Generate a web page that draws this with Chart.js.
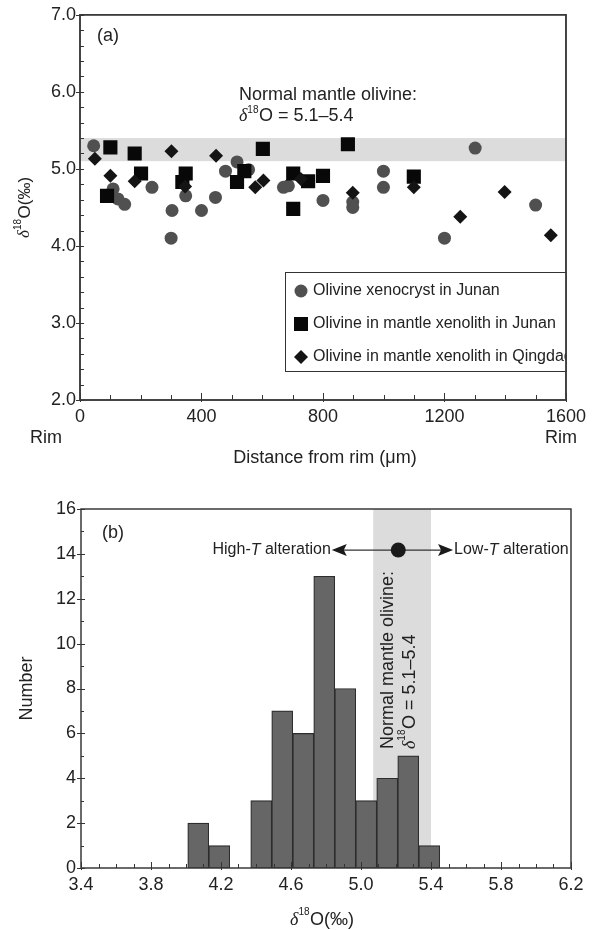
<!DOCTYPE html>
<html><head><meta charset="utf-8">
<script src="https://cdn.jsdelivr.net/npm/chart.js@4.4.1/dist/chart.umd.min.js"></script>
<style>
html,body{margin:0;padding:0;background:#fff;width:592px;height:930px;overflow:hidden}
#wa{position:absolute;left:0;top:0;width:592px;height:475px}
#wb{position:absolute;left:0;top:478px;width:592px;height:452px}
</style></head><body>
<div id="wa"><canvas id="ca"></canvas></div>
<div id="wb"><canvas id="cb"></canvas></div>
<script>
// ---------- Panel (a) data: distance from rim (um) vs d18O ----------
const xenocrystJunanX = [45,109,125,147,237,300,303,348,400,446,479,517,555,670,686,800,898,898,999,999,1200,1301,1500];
const xenocrystJunanY = [5.30,4.74,4.61,4.54,4.76,4.10,4.46,4.65,4.46,4.63,4.97,5.09,4.99,4.76,4.78,4.59,4.57,4.50,4.97,4.76,4.10,5.27,4.53];
const xenolithJunanX = [100,89,180,201,348,337,541,517,602,702,751,702,800,882,1099];
const xenolithJunanY = [5.28,4.65,5.20,4.94,4.94,4.83,4.97,4.83,5.26,4.94,4.84,4.48,4.91,5.32,4.90];
const xenolithQingdaoX = [49,100,180,301,346,448,577,604,727,898,1099,1252,1398,1550];
const xenolithQingdaoY = [5.13,4.91,4.84,5.23,4.77,5.17,4.76,4.85,4.87,4.69,4.76,4.38,4.70,4.14];
const seriesLabels = ['Olivine xenocryst in Junan','Olivine in mantle xenolith in Junan','Olivine in mantle xenolith in Qingdao'];
const normalBand = [5.1, 5.4];
// ---------- Panel (b) data: histogram ----------
const binCenters = [4.07,4.19,4.31,4.43,4.55,4.67,4.79,4.91,5.03,5.15,5.27,5.39];
const binCounts  = [2,1,0,3,7,6,13,8,3,4,5,1];
const bandB = [5.07, 5.40];
const arrowB = {y: 14.17, left: 4.833, right: 5.526, dot: 5.213};

const FONT = '"Liberation Sans", Arial, Helvetica, sans-serif';
const SERIF = '"Liberation Serif", "Times New Roman", serif';
const TXT = '#222';

function d18Segs(fs, rest){
  return [
    {t:'\u03B4', f:'italic '+fs+'px '+SERIF, dy:0},
    {t:'18', f:Math.round(fs*0.58)+'px '+FONT, dy:-fs*0.42},
    {t:'O'+rest, f:fs+'px '+FONT, dy:0}
  ];
}
function segsWidth(ctx, segs){
  let w=0; for(const s of segs){ctx.font=s.f; w+=ctx.measureText(s.t).width+(s.t==='18'?0.5:0);} return w;
}
function drawSegs(ctx, segs, x, y){
  let cx=x;
  for(const s of segs){ctx.font=s.f; ctx.fillText(s.t, cx, y+s.dy); cx+=ctx.measureText(s.t).width+(s.t==='18'?0.5:0);}
  return cx-x;
}

function drawFrame(ctx, a){
  ctx.save();
  ctx.strokeStyle='#3a3a3a'; ctx.lineWidth=1.5;
  ctx.strokeRect(a.left, a.top, a.right-a.left, a.bottom-a.top);
  ctx.restore();
}

function tickMarks(ctx, chart, axis, from, to, step, majorEvery, majLen, minLen){
  const s = chart.scales[axis]; const a = chart.chartArea;
  ctx.save(); ctx.strokeStyle='#333'; ctx.lineWidth=1;
  const n = Math.round((to-from)/step);
  for(let i=0;i<=n;i++){
    const v = from + i*step;
    const major = (i % majorEvery)===0;
    ctx.beginPath();
    if(axis==='y'){
      const p = Math.round(s.getPixelForValue(v))+0.5;
      if(major){ctx.moveTo(a.left-4,p); ctx.lineTo(a.left+majLen,p);} else {ctx.moveTo(a.left,p); ctx.lineTo(a.left+minLen,p);}
    } else {
      const p = Math.round(s.getPixelForValue(v))+0.5;
      if(major){ctx.moveTo(p,a.bottom+2); ctx.lineTo(p,a.bottom-majLen);} else {ctx.moveTo(p,a.bottom); ctx.lineTo(p,a.bottom-minLen);}
    }
    ctx.stroke();
  }
  ctx.restore();
}

// ---------- Chart (a) ----------
const pluginA = {
  id:'panelA',
  beforeDatasetsDraw(chart){
    const {ctx, chartArea:a, scales:{y}} = chart;
    ctx.save(); ctx.fillStyle='#dcdcdc';
    const t=y.getPixelForValue(normalBand[1]), b=y.getPixelForValue(normalBand[0]);
    ctx.fillRect(a.left, t, a.right-a.left, b-t); ctx.restore();
  },
  afterDraw(chart){
    const {ctx, chartArea:a} = chart;
    tickMarks(ctx, chart, 'y', 2, 7, 0.2, 5, 4, 4);
    tickMarks(ctx, chart, 'x', 0, 1600, 100, 4, 7, 5);
    drawFrame(ctx, a);
    ctx.save();
    ctx.fillStyle=TXT; ctx.textBaseline='alphabetic'; ctx.textAlign='left';
    // panel label
    ctx.font='18px '+FONT; ctx.textBaseline='middle'; ctx.fillText('(a)', 97, 36);
    // annotation
    ctx.textBaseline='alphabetic';
    ctx.font='18px '+FONT; ctx.fillText('Normal mantle olivine:', 239, 100);
    drawSegs(ctx, d18Segs(18,' = 5.1\u20135.4'), 239, 121);
    // legend box
    const lx=285, ly=272, lb=371;
    ctx.fillStyle='#fff'; ctx.fillRect(lx, ly, a.right-lx, lb-ly);
    ctx.save(); ctx.beginPath(); ctx.rect(lx, ly, a.right-lx, lb-ly); ctx.clip();
    const rows=[291,324,357];
    const ds = chart.data.datasets;
    for(let i=0;i<3;i++){
      const cy=rows[i], cx=301;
      ctx.fillStyle=ds[i].backgroundColor;
      ctx.beginPath();
      if(i===0){ctx.arc(cx,cy,6.5,0,Math.PI*2);}
      else if(i===1){ctx.rect(cx-7,cy-7,14,14);}
      else {ctx.moveTo(cx-7,cy);ctx.lineTo(cx,cy-7);ctx.lineTo(cx+7,cy);ctx.lineTo(cx,cy+7);ctx.closePath();}
      ctx.fill();
      ctx.fillStyle=TXT; ctx.font='16px '+FONT; ctx.textBaseline='middle';
      ctx.fillText(seriesLabels[i], 313, cy);
    }
    ctx.restore();
    ctx.strokeStyle='#333'; ctx.lineWidth=1;
    ctx.strokeRect(lx+0.5, ly+0.5, a.right-lx-0.5, lb-ly);
    drawFrame(ctx, a);
    // axis titles
    ctx.fillStyle=TXT; ctx.textBaseline='middle';
    ctx.font='18px '+FONT; ctx.textAlign='center';
    ctx.fillText('Rim', 46, 438);
    ctx.fillText('Rim', 561, 438);
    ctx.fillText('Distance from rim (\u03BCm)', 325, 458);
    // y title rotated
    ctx.save();
    ctx.translate(19, (a.top+a.bottom)/2); ctx.rotate(-Math.PI/2);
    ctx.textAlign='left';
    const segs=d18Segs(17,'(\u2030)');
    const w=segsWidth(ctx,segs);
    drawSegs(ctx, segs, -w/2, 6);
    ctx.restore();
    ctx.restore();
  }
};

function pts(xs, ys){ return xs.map((x,i)=>({x, y:ys[i]})); }

new Chart(document.getElementById('ca'), {
  type:'scatter',
  data:{datasets:[
    {label:seriesLabels[0], data:pts(xenocrystJunanX,xenocrystJunanY), pointStyle:'circle', pointRadius:6.5, backgroundColor:'#505050', borderColor:'#505050', pointBorderWidth:0, order:3},
    {label:seriesLabels[1], data:pts(xenolithJunanX,xenolithJunanY), pointStyle:'rect', pointRadius:10, backgroundColor:'#080808', borderColor:'#080808', pointBorderWidth:0, order:2},
    {label:seriesLabels[2], data:pts(xenolithQingdaoX,xenolithQingdaoY), pointStyle:'rectRot', pointRadius:7, backgroundColor:'#141414', borderColor:'#141414', pointBorderWidth:0, order:1}
  ]},
  options:{
    responsive:true, maintainAspectRatio:false, animation:false, events:[],
    layout:{padding:{left:0,right:22,top:14,bottom:0}},
    plugins:{legend:{display:false}, tooltip:{enabled:false}},
    scales:{
      x:{type:'linear', min:0, max:1600, grid:{display:false, drawTicks:false}, border:{display:false},
         ticks:{stepSize:400, color:TXT, font:{family:FONT,size:18}, padding:6, callback:v=>String(v), maxRotation:0},
         afterFit:s=>{s.height=75;}},
      y:{type:'linear', min:2, max:7, grid:{display:false, drawTicks:false}, border:{display:false},
         ticks:{stepSize:1, color:TXT, font:{family:FONT,size:18}, padding:4, callback:v=>Number(v).toFixed(1)},
         afterFit:s=>{s.width=80;}}
    }
  },
  plugins:[pluginA]
});

// ---------- Chart (b) ----------
const pluginB = {
  id:'panelB',
  beforeDatasetsDraw(chart){
    const {ctx, chartArea:a, scales:{x}} = chart;
    ctx.save(); ctx.fillStyle='#dcdcdc';
    const l=x.getPixelForValue(bandB[0]), r=x.getPixelForValue(bandB[1]);
    ctx.fillRect(l, a.top, r-l, a.bottom-a.top); ctx.restore();
  },
  afterDraw(chart){
    const {ctx, chartArea:a, scales:{x,y}} = chart;
    tickMarks(ctx, chart, 'y', 0, 16, 1, 2, 4, 3);
    tickMarks(ctx, chart, 'x', 3.4, 6.2, 0.1, 4, 6, 4);
    drawFrame(ctx, a);
    ctx.save();
    ctx.fillStyle=TXT;
    ctx.font='18px '+FONT; ctx.textBaseline='middle'; ctx.textAlign='left';
    ctx.fillText('(b)', 102, 55);
    // arrow
    const ay=y.getPixelForValue(arrowB.y), xl=x.getPixelForValue(arrowB.left), xr=x.getPixelForValue(arrowB.right), xd=x.getPixelForValue(arrowB.dot);
    ctx.strokeStyle='#333'; ctx.lineWidth=1.3;
    ctx.beginPath(); ctx.moveTo(xl+10, ay); ctx.lineTo(xr-10, ay); ctx.stroke();
    ctx.fillStyle='#1a1a1a';
    ctx.beginPath(); ctx.moveTo(xl, ay); ctx.lineTo(xl+15, ay-6); ctx.lineTo(xl+12, ay); ctx.lineTo(xl+15, ay+6); ctx.closePath(); ctx.fill();
    ctx.beginPath(); ctx.moveTo(xr, ay); ctx.lineTo(xr-15, ay-6); ctx.lineTo(xr-12, ay); ctx.lineTo(xr-15, ay+6); ctx.closePath(); ctx.fill();
    ctx.beginPath(); ctx.arc(xd, ay, 7.5, 0, Math.PI*2); ctx.fill();
    // arrow labels
    ctx.fillStyle=TXT; ctx.textBaseline='middle';
    const hi=[{t:'High-',f:'16px '+FONT,dy:0},{t:'T',f:'italic 16px '+FONT,dy:0},{t:' alteration',f:'16px '+FONT,dy:0}];
    const hw=segsWidth(ctx,hi);
    drawSegs(ctx, hi, xl-1-hw, ay);
    const lo=[{t:'Low-',f:'16px '+FONT,dy:0},{t:'T',f:'italic 16px '+FONT,dy:0},{t:' alteration',f:'16px '+FONT,dy:0}];
    drawSegs(ctx, lo, xr+1, ay);
    // rotated band text
    ctx.save();
    ctx.translate(388, 271); ctx.rotate(-Math.PI/2);
    ctx.font='18px '+FONT; ctx.textBaseline='middle'; ctx.textAlign='left';
    ctx.fillText('Normal mantle olivine:', 0, 0);
    ctx.restore();
    ctx.save();
    ctx.translate(409, 271); ctx.rotate(-Math.PI/2);
    ctx.textBaseline='middle'; ctx.textAlign='left';
    drawSegs(ctx, d18Segs(18,' = 5.1\u20135.4'), 0, 1);
    ctx.restore();
    // axis titles
    ctx.font='18px '+FONT; ctx.textAlign='center'; ctx.textBaseline='middle';
    ctx.save(); ctx.translate(27, (a.top+a.bottom)/2); ctx.rotate(-Math.PI/2);
    ctx.fillText('Number', 0, 0); ctx.restore();
    ctx.textAlign='left';
    const xs=d18Segs(18,'(\u2030)'); const xw=segsWidth(ctx,xs);
    drawSegs(ctx, xs, 322-xw/2, 442);
    ctx.restore();
  }
};

new Chart(document.getElementById('cb'), {
  type:'bar',
  data:{datasets:[{label:'Number', data:binCenters.map((c,i)=>({x:c, y:binCounts[i]})),
    backgroundColor:'#666666', borderColor:'#2d2d2d', borderWidth:1.2, borderSkipped:false,
    barPercentage:1, categoryPercentage:1, grouped:false}]},
  options:{
    responsive:true, maintainAspectRatio:false, animation:false, events:[],
    layout:{padding:{left:0,right:21,top:31,bottom:0}},
    plugins:{legend:{display:false}, tooltip:{enabled:false}},
    scales:{
      x:{type:'linear', min:3.4, max:6.2, offset:false, grid:{display:false, drawTicks:false, offset:false}, border:{display:false},
         ticks:{stepSize:0.4, color:TXT, font:{family:FONT,size:18}, padding:6, maxRotation:0, callback:v=>Number(v).toFixed(1)},
         afterFit:s=>{s.height=62;}},
      y:{type:'linear', min:0, max:16, grid:{display:false, drawTicks:false}, border:{display:false},
         ticks:{stepSize:2, color:TXT, font:{family:FONT,size:18}, padding:5},
         afterFit:s=>{s.width=81;}}
    }
  },
  plugins:[pluginB]
});
</script>
</body></html>
